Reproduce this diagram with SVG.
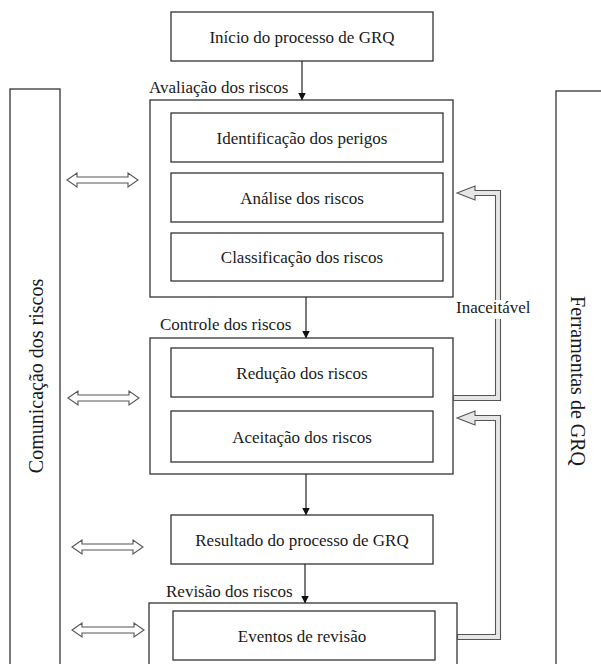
<svg xmlns="http://www.w3.org/2000/svg" width="601" height="664" viewBox="0 0 601 664" font-family="'Liberation Serif', 'DejaVu Serif', serif">
<style>
text{font-family:"Liberation Serif","DejaVu Serif",serif;font-size:17px;fill:#1a1a1a}
.c{text-anchor:middle}
.box{fill:#fff;stroke:#333;stroke-width:1.3}
.ln{stroke:#222;stroke-width:1.2;fill:none}
.dbl{fill:#fff;stroke:#555;stroke-width:1.1}
.fb{fill:#e6e6e6;stroke:#555;stroke-width:1.1}
.big{font-size:20px}
</style>
<defs>
<marker id="ah" markerWidth="8" markerHeight="8" refX="7" refY="4" orient="auto" markerUnits="userSpaceOnUse">
<path d="M0,0 L8,4 L0,8 Z" fill="#111"/>
</marker>
</defs>
<rect width="601" height="664" fill="#fff"/>

<g id="comunicacao">
<rect class="box" x="10" y="89" width="50" height="590"/>
<text class="c big" transform="translate(43,376) rotate(-90)">Comunicação dos riscos</text>
</g>
<g id="ferramentas">
<rect class="box" x="556" y="91" width="60" height="590"/>
<text class="c big" transform="translate(571,381) rotate(90)">Ferramentas de GRQ</text>
</g>

<g id="inicio">
<rect class="box" x="171" y="12" width="262" height="49"/>
<text class="c" x="302" y="42.5">Início do processo de GRQ</text>
</g>

<g id="avaliacao">
<text x="149" y="93">Avaliação dos riscos</text>
<rect class="box" x="150" y="100" width="303" height="197"/>
</g>
<g id="identificacao">
<rect class="box" x="171" y="113" width="272" height="49"/>
<text class="c" x="302" y="143.5">Identificação dos perigos</text>
</g>
<g id="analise">
<rect class="box" x="171" y="173" width="272" height="49"/>
<text class="c" x="302" y="203.5">Análise dos riscos</text>
</g>
<g id="classificacao">
<rect class="box" x="171" y="233" width="272" height="48"/>
<text class="c" x="302" y="263">Classificação dos riscos</text>
</g>

<g id="controle">
<text x="160" y="330">Controle dos riscos</text>
<rect class="box" x="150" y="338" width="303" height="136"/>
</g>
<g id="reducao">
<rect class="box" x="171" y="348" width="262" height="49"/>
<text class="c" x="302" y="378.5">Redução dos riscos</text>
</g>
<g id="aceitacao">
<rect class="box" x="171" y="411" width="262" height="51"/>
<text class="c" x="302" y="442.5">Aceitação dos riscos</text>
</g>

<g id="resultado">
<rect class="box" x="171" y="515" width="262" height="49"/>
<text class="c" x="302" y="545.5">Resultado do processo de GRQ</text>
</g>

<g id="revisao">
<text x="166" y="597">Revisão dos riscos</text>
<rect class="box" x="149" y="603" width="308" height="80"/>
</g>
<g id="eventos">
<rect class="box" x="173" y="611" width="262" height="49"/>
<text class="c" x="302" y="641.5">Eventos de revisão</text>
</g>

<g id="connectors">
<line class="ln" x1="302" y1="61" x2="302" y2="99.5" marker-end="url(#ah)"/>
<line class="ln" x1="306" y1="297" x2="306" y2="337.5" marker-end="url(#ah)"/>
<line class="ln" x1="306" y1="474" x2="306" y2="514.5" marker-end="url(#ah)"/>
<line class="ln" x1="305" y1="564" x2="305" y2="602.5" marker-end="url(#ah)"/>

<polygon class="dbl" points="67,180 77,173 77,177 128,177 128,173 138,180 128,187 128,183 77,183 77,187"/>
<polygon class="dbl" points="68,398 78,391 78,395 129,395 129,391 139,398 129,405 129,401 78,401 78,405"/>
<polygon class="dbl" points="72,547 82,540 82,544 133,544 133,540 143,547 133,554 133,550 82,550 82,554"/>
<polygon class="dbl" points="72,630 82,623 82,627 134,627 134,623 144,630 134,637 134,633 82,633 82,637"/>

<polygon class="fb" points="457,193 475,186 475,190.5 500.5,190.5 500.5,400.5 453.5,400.5 453.5,395.5 495.5,395.5 495.5,195.5 475,195.5 475,200"/>
<polygon class="fb" points="457,418 475,411 475,415.5 500.5,415.5 500.5,639.5 457.5,639.5 457.5,634.5 495.5,634.5 495.5,420.5 475,420.5 475,425"/>
<rect x="490" y="300" width="14" height="19" fill="#fff"/>
<text x="456" y="313">Inaceitável</text>
</g>
</svg>
